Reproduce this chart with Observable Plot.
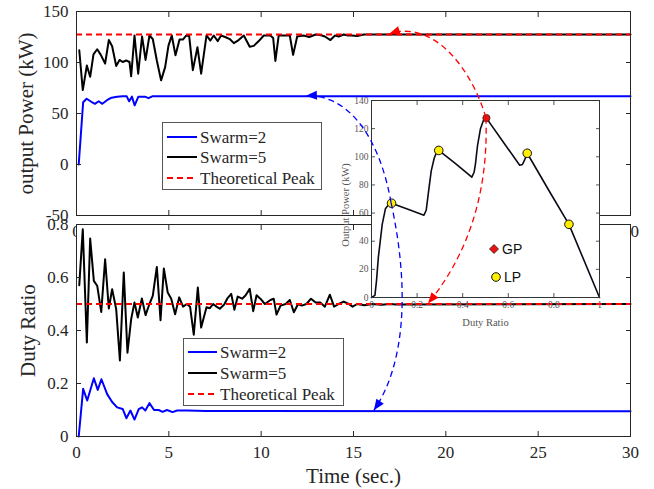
<!DOCTYPE html>
<html><head><meta charset="utf-8">
<script src="https://cdn.jsdelivr.net/npm/d3@7"></script>
<script src="https://cdn.jsdelivr.net/npm/@observablehq/plot@0.6"></script>
<style>
html,body{margin:0;padding:0;background:#fff;}
#fig{position:relative;width:654px;height:489px;overflow:hidden;background:#fff;font-family:"Liberation Serif",serif;}
#fig > svg, #fig > div{position:absolute;left:0;top:0;}
#fig svg text{font-family:"Liberation Serif",serif;}
#fig svg text.sans{font-family:"Liberation Sans",sans-serif;}
</style></head><body><div id="fig"></div>
<script>
// ---------------- data ----------------
const seriesNames = ["Swarm=2", "Swarm=5", "Theoretical Peak"];
const timeTicks = [0, 5, 10, 15, 20, 25, 30];
const powerTicks = [-50, 0, 50, 100, 150];
const dutyTicks = [0, 0.2, 0.4, 0.6, 0.8];
const pvDutyTicks = [0, 0.2, 0.4, 0.6, 0.8, 1];
const pvPowerTicks = [0, 20, 40, 60, 80, 100, 120, 140];

const peakPower = 127.5;
const peakDuty = 0.5;

const powerTime2 = [0.12, 0.36, 0.55, 0.8, 1.0, 1.2, 1.4, 1.65, 1.9, 2.2, 2.5, 2.72, 2.85, 3.0, 3.15, 3.35, 3.7, 3.9, 4.1, 30];
const power2     = [0, 61, 64.5, 61.5, 59.5, 62, 59.5, 63, 65.5, 66.5, 66.8, 66.8, 62, 66.5, 58, 66.5, 66.5, 65, 66.8, 66.8];

const powerTime5 = [0.15, 0.34, 0.56, 0.74, 0.92, 1.12, 1.3, 1.55, 1.75, 1.93, 2.15, 2.33, 2.5, 2.69, 2.87, 2.96, 3.14, 3.34, 3.55, 3.74, 3.95, 4.13, 4.35, 4.58, 4.8, 4.98, 5.16, 5.36, 5.58, 5.76, 5.95, 6.1, 6.3, 6.55, 6.75, 7.04, 7.25, 7.43, 7.65, 7.83, 8.05, 8.3, 8.52, 8.78, 9.06, 9.38, 9.6, 9.87, 10.14, 10.5, 10.65, 10.77, 10.95, 11.3, 11.55, 11.73, 11.95, 12.3, 12.6, 12.95, 13.2, 13.45, 13.75, 14.0, 14.2, 14.47, 14.7, 14.9, 15.2, 15.57, 16.0, 30];
const power5     = [112, 73, 97, 86, 108, 113, 108, 99, 122, 116, 96.5, 102.5, 100.5, 102, 100.5, 86.5, 126.5, 89, 125.5, 102.5, 126.5, 123, 102, 82.5, 95.5, 116.5, 126.5, 107, 122.5, 122.5, 126.5, 126, 92.5, 115, 89, 126.5, 121.5, 126.5, 121, 126.5, 125, 123, 119, 122, 126.5, 115.5, 116.3, 121, 126.5, 126.5, 124, 101.5, 126.5, 126.5, 126.5, 107.5, 125.5, 126.5, 125, 127.5, 127, 125.5, 122, 126.5, 125.5, 127.5, 126.5, 126.5, 126, 127.5, 127.5, 127.5];

const dutyTime2 = [0.12, 0.36, 0.58, 0.94, 1.15, 1.35, 1.66, 1.93, 2.2, 2.5, 2.7, 2.92, 3.14, 3.37, 3.55, 3.73, 3.95, 4.2, 4.45, 4.66, 4.9, 5.2, 5.45, 6.0, 7.0, 30];
const duty2     = [0, 0.18, 0.136, 0.22, 0.176, 0.216, 0.16, 0.13, 0.11, 0.104, 0.069, 0.098, 0.064, 0.103, 0.11, 0.098, 0.126, 0.1, 0.1, 0.093, 0.1, 0.092, 0.098, 0.098, 0.096, 0.095];

const dutyTime5 = [0.15, 0.34, 0.56, 0.74, 0.94, 1.12, 1.34, 1.55, 1.75, 1.93, 2.15, 2.35, 2.56, 2.76, 2.96, 3.14, 3.32, 3.54, 3.74, 3.95, 4.13, 4.35, 4.55, 4.73, 4.94, 5.13, 5.34, 5.56, 5.77, 5.98, 6.15, 6.35, 6.57, 6.75, 7.04, 7.22, 7.4, 7.58, 7.76, 8.0, 8.16, 8.38, 8.55, 8.73, 8.97, 9.15, 9.38, 9.57, 9.75, 9.97, 10.2, 10.5, 10.68, 10.83, 11.05, 11.33, 11.55, 11.77, 12.0, 12.2, 12.45, 12.7, 12.95, 13.2, 13.45, 13.72, 13.95, 14.2, 14.47, 14.74, 14.95, 15.2, 15.6, 16.0, 16.5, 17.0, 17.3, 30];
const duty5     = [0.571, 0.782, 0.355, 0.747, 0.587, 0.569, 0.47, 0.669, 0.483, 0.556, 0.48, 0.287, 0.619, 0.316, 0.443, 0.506, 0.449, 0.521, 0.458, 0.5, 0.531, 0.64, 0.439, 0.634, 0.543, 0.52, 0.461, 0.525, 0.49, 0.5, 0.49, 0.384, 0.562, 0.411, 0.488, 0.484, 0.5, 0.49, 0.482, 0.498, 0.52, 0.538, 0.478, 0.528, 0.52, 0.532, 0.557, 0.473, 0.533, 0.519, 0.5, 0.515, 0.52, 0.46, 0.494, 0.5, 0.515, 0.469, 0.5, 0.494, 0.5, 0.52, 0.506, 0.506, 0.49, 0.535, 0.49, 0.5, 0.509, 0.5, 0.49, 0.5, 0.495, 0.5, 0.497, 0.5, 0.498, 0.5];

// inset P-V curve
const pvDuty  = [0, 0.015, 0.022, 0.03, 0.047, 0.061, 0.075, 0.088, 0.16, 0.23, 0.24, 0.25, 0.262, 0.275, 0.285, 0.295, 0.37, 0.44, 0.45, 0.456, 0.465, 0.478, 0.49, 0.504, 0.58, 0.65, 0.662, 0.672, 0.683, 0.78, 0.866, 1.0];
const pvPower = [0, 1.5, 12, 28.5, 52, 63, 66, 67, 62.7, 58.5, 62, 75, 90, 99, 103, 104.5, 95, 85.5, 89, 95, 108, 120, 125.5, 127.5, 110, 94, 94.5, 98, 102.5, 75.5, 52, 0];
const lpDuty  = [0.088, 0.295, 0.683, 0.866];
const lpPower = [67, 104.5, 102.5, 52];
const gpDuty  = [0.504];
const gpPower = [127.5];
const insetLegend = ["GP", "LP"];

// arrow targets on the main panels (time, value)
const arrowPowerLP = [12.45, 66.8];
const arrowPowerGP = [16.95, 127.5];
const arrowDutyLP  = [16.13, 0.097];
const arrowDutyGP  = [19.06, 0.5];

// ---------------- drawing ----------------
const W = 654, H = 489;
const FONT = "Liberation Serif, serif";
const INK = "#262626";
const BLUE = "#0000ff", RED = "#ff0000", BLACK = "#000000";
const fig = document.getElementById("fig");
const pts = (xs, ys) => xs.map((x, i) => ({x, y: ys[i]}));
const fmt = d => String(d);

function boxAxes(xTicks, yTicks, tickLen, padX, padY, showX = true) {
  return [
    Plot.axisX({anchor: "bottom", ticks: xTicks, tickSize: -tickLen, tickPadding: padX, label: null, tickFormat: showX ? fmt : () => ""}),
    Plot.axisX({anchor: "top", ticks: xTicks, tickSize: -tickLen, label: null, tickFormat: () => ""}),
    Plot.axisY({anchor: "left", ticks: yTicks, tickSize: -tickLen, tickPadding: padY, label: null, tickFormat: fmt}),
    Plot.axisY({anchor: "right", ticks: yTicks, tickSize: -tickLen, label: null, tickFormat: () => ""})
  ];
}

const mainStyle = {fontFamily: FONT, fontSize: "17px", background: "transparent", color: INK, overflow: "visible"};

const topPlot = Plot.plot({
  width: W, height: H,
  marginLeft: 76, marginRight: 24, marginTop: 11, marginBottom: H - 215,
  style: mainStyle,
  x: {domain: [0, 30]},
  y: {domain: [-50, 150]},
  marks: [
    Plot.frame({fill: "white", stroke: "none"}),
    Plot.line(pts(powerTime2, power2), {x: "x", y: "y", stroke: BLUE, strokeWidth: 2}),
    Plot.line(pts(powerTime5, power5), {x: "x", y: "y", stroke: BLACK, strokeWidth: 2}),
    Plot.ruleY([peakPower], {stroke: RED, strokeWidth: 2, strokeDasharray: "6,4"}),
    ...boxAxes(timeTicks, powerTicks, 5, 14, 13),
    Plot.text(["output Power (kW)"], {frameAnchor: "left", rotate: -90, dx: -50, textAnchor: "middle", lineAnchor: "middle", fontSize: 21, fill: INK}),
    Plot.frame({stroke: INK})
  ]
});
fig.appendChild(topPlot);

const botPlot = Plot.plot({
  width: W, height: H,
  marginLeft: 76, marginRight: 24, marginTop: 224, marginBottom: H - 436,
  style: mainStyle,
  x: {domain: [0, 30]},
  y: {domain: [0, 0.8]},
  marks: [
    Plot.frame({fill: "white", stroke: "none"}),
    Plot.line(pts(dutyTime2, duty2), {x: "x", y: "y", stroke: BLUE, strokeWidth: 2}),
    Plot.line(pts(dutyTime5, duty5), {x: "x", y: "y", stroke: BLACK, strokeWidth: 2}),
    Plot.ruleY([peakDuty], {stroke: RED, strokeWidth: 2, strokeDasharray: "6,4"}),
    ...boxAxes(timeTicks, dutyTicks, 5, 14, 13),
    Plot.text(["Duty Ratio"], {frameAnchor: "left", rotate: -90, dx: -48, textAnchor: "middle", lineAnchor: "middle", fontSize: 21, fill: INK}),
    Plot.text(["Time (sec.)"], {frameAnchor: "bottom", dy: 40, textAnchor: "middle", lineAnchor: "middle", fontSize: 21, fill: INK}),
    Plot.frame({stroke: INK})
  ]
});
fig.appendChild(botPlot);

const insetPlot = Plot.plot({
  width: W, height: H,
  marginLeft: 371, marginRight: W - 599, marginTop: 100, marginBottom: H - 297,
  style: {fontFamily: FONT, fontSize: "9.5px", background: "transparent", color: "#555", overflow: "visible"},
  x: {domain: [0, 1]},
  y: {domain: [0, 140]},
  marks: [
    Plot.frame({fill: "white", stroke: "none"}),
    Plot.line(pts(pvDuty, pvPower), {x: "x", y: "y", stroke: "#0b0b18", strokeWidth: 1.6}),
    Plot.dot(pts(lpDuty, lpPower), {x: "x", y: "y", r: 4.3, fill: "#ffee00", stroke: "#111", strokeWidth: 1}),
    Plot.dot(pts(gpDuty, gpPower), {x: "x", y: "y", r: 3.6, fill: "#ee1111", stroke: "#222", strokeWidth: 0.8}),
    ...boxAxes(pvDutyTicks, pvPowerTicks, 4, 8, 7),
    Plot.text(["Output Power (kW)"], {frameAnchor: "left", rotate: -90, dx: -26, dy: 6, textAnchor: "middle", lineAnchor: "middle", fontSize: 10.5, fill: "#555"}),
    Plot.text(["Duty Ratio"], {frameAnchor: "bottom", dy: 25, textAnchor: "middle", lineAnchor: "middle", fontSize: 10.5, fill: "#555"}),
    Plot.frame({stroke: "#333", strokeWidth: 1})
  ]
});
fig.appendChild(insetPlot);

// ---------------- legends ----------------
const seriesStyle = [
  {stroke: BLUE, dash: null},
  {stroke: BLACK, dash: null},
  {stroke: RED, dash: "6,4"}
];
function addLegend(left, top, w, h, rowY, lineX0, lineX1, textX) {
  const s = d3.select(fig).append("svg")
    .attr("width", w + 2).attr("height", h + 2)
    .style("left", left + "px").style("top", top + "px").style("overflow", "visible");
  s.append("rect").attr("x", 0.5).attr("y", 0.5).attr("width", w).attr("height", h)
    .attr("fill", "white").attr("stroke", "#555").attr("stroke-width", 1);
  seriesNames.forEach((name, i) => {
    s.append("line").attr("x1", lineX0).attr("x2", lineX1).attr("y1", rowY[i]).attr("y2", rowY[i])
      .attr("stroke", seriesStyle[i].stroke).attr("stroke-width", 2)
      .attr("stroke-dasharray", seriesStyle[i].dash);
    s.append("text").attr("x", textX).attr("y", rowY[i]).attr("dy", "0.35em")
      .attr("font-size", 17).attr("fill", INK).text(name);
  });
}
addLegend(162, 122, 159, 67, [15, 35, 56], 5, 35, 38);
addLegend(183, 338, 160, 67, [14, 35, 56], 5, 34, 37);

// inset legend GP / LP
{
  const xs = insetPlot.scale("x"), ys = insetPlot.scale("y");
  const s = d3.select(fig).append("svg").attr("width", W).attr("height", H).style("overflow", "visible");
  const gx = 494, gy = 249;
  s.append("path").attr("d", `M${gx},${gy - 4.5}L${gx + 4.5},${gy}L${gx},${gy + 4.5}L${gx - 4.5},${gy}Z`)
    .attr("fill", "#ee1111").attr("stroke", "#222").attr("stroke-width", 0.8);
  s.append("text").attr("class", "sans").attr("x", gx + 8).attr("y", gy).attr("dy", "0.36em")
    .attr("font-size", 14).attr("fill", "#111").text(insetLegend[0]);
  const lx = 496, ly = 277;
  s.append("circle").attr("cx", lx).attr("cy", ly).attr("r", 4.3)
    .attr("fill", "#ffee00").attr("stroke", "#111").attr("stroke-width", 1);
  s.append("text").attr("class", "sans").attr("x", lx + 8).attr("y", ly).attr("dy", "0.36em")
    .attr("font-size", 14).attr("fill", "#111").text(insetLegend[1]);

  // ---------------- arrows ----------------
  const tx = topPlot.scale("x"), ty = topPlot.scale("y");
  const bx = botPlot.scale("x"), by = botPlot.scale("y");
  const LP = [xs.apply(lpDuty[0]), ys.apply(lpPower[0])];
  const GP = [xs.apply(gpDuty[0]), ys.apply(gpPower[0])];
  const ends = {
    redUp:   [tx.apply(arrowPowerGP[0]), ty.apply(arrowPowerGP[1])],
    redDown: [bx.apply(arrowDutyGP[0]), by.apply(arrowDutyGP[1])],
    blueUp:  [tx.apply(arrowPowerLP[0]), ty.apply(arrowPowerLP[1])],
    blueDown:[bx.apply(arrowDutyLP[0]), by.apply(arrowDutyLP[1])]
  };
  function arrow(start, c1off, c2off, end, color) {
    const c1 = [start[0] + c1off[0], start[1] + c1off[1]];
    const c2 = [end[0] + c2off[0], end[1] + c2off[1]];
    s.append("path")
      .attr("d", `M${start[0]},${start[1]}C${c1[0]},${c1[1]} ${c2[0]},${c2[1]} ${end[0]},${end[1]}`)
      .attr("fill", "none").attr("stroke", color).attr("stroke-width", 1.3).attr("stroke-dasharray", "6,4");
    const dx = end[0] - c2[0], dy = end[1] - c2[1];
    const L = Math.hypot(dx, dy), ux = dx / L, uy = dy / L;
    const len = 11, hw = 4.5;
    const bxp = end[0] - ux * len, byp = end[1] - uy * len;
    s.append("path")
      .attr("d", `M${end[0]},${end[1]}L${bxp - uy * hw},${byp + ux * hw}L${bxp + uy * hw},${byp - ux * hw}Z`)
      .attr("fill", color);
  }
  arrow(GP, [-14, -48], [45, -15], ends.redUp, RED);
  arrow(GP, [3, 80], [37, -45], ends.redDown, RED);
  arrow(LP, [-11, -63], [44, -2], ends.blueUp, BLUE);
  arrow(LP, [19, 87], [31, -45], ends.blueDown, BLUE);
}
</script>
</body></html>
